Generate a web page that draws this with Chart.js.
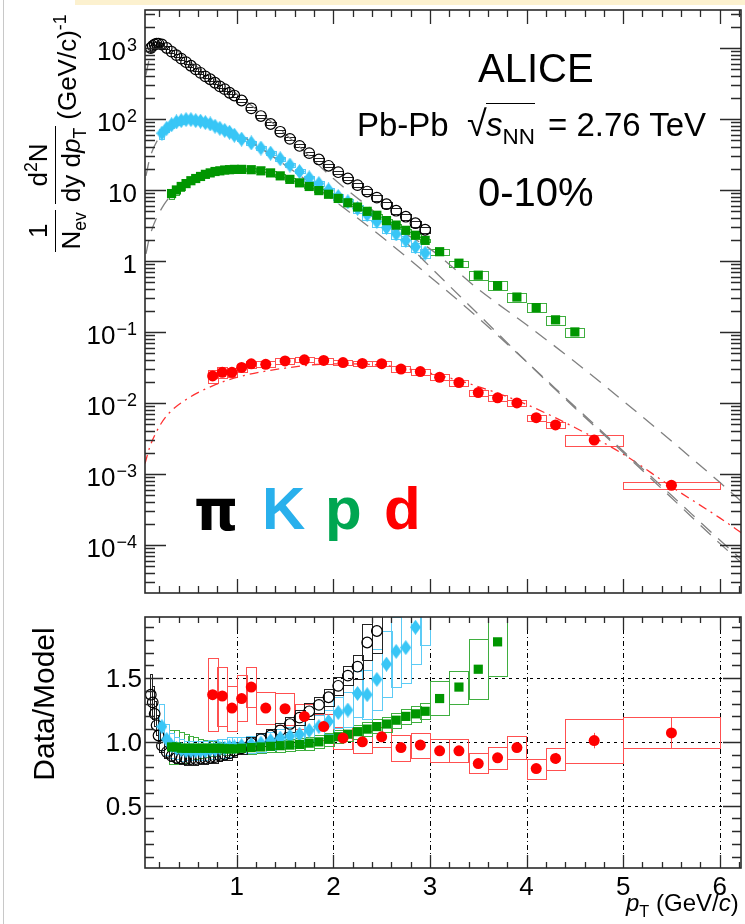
<!DOCTYPE html>
<html>
<head>
<meta charset="utf-8">
<script src="https://cdn.jsdelivr.net/npm/chart.js@4.4.1/dist/chart.umd.min.js"></script>
<style>
body { margin:0; width:745px; height:924px; overflow:hidden; background:#fff; position:relative; font-family:"Liberation Sans", Arial, sans-serif; }
canvas { position:absolute; left:0; }
#spectra { top:0; }
#ratio { top:600px; }
.band { position:absolute; left:75px; top:0; width:670px; height:5px; background:#fcf1cf; }
.edge { position:absolute; left:3px; top:0; width:1px; height:924px; background:#c8c8c8; }
.t { position:absolute; white-space:nowrap; line-height:1; color:#000; }
.ov { border-top:1.5px solid #000; padding-top:2px; }
sub, sup { font-size:0.68em; line-height:0; }
#ytitle { position:absolute; left:-83px; top:95px; width:276px; height:76px; transform:rotate(-90deg);
  display:flex; align-items:center; justify-content:center; font-size:26px; line-height:1.05; white-space:nowrap; }
.frac { display:inline-flex; flex-direction:column; align-items:stretch; text-align:center; margin-right:6px; }
.frac > span:first-child { border-bottom:1.5px solid #000; padding:0 2px 2px; }
.frac > span:last-child { padding:2px 2px 0; }
.unit { transform:translateY(13px); }
#dm { position:absolute; left:-56px; top:689px; width:200px; text-align:center; font-size:30px; line-height:1; transform:rotate(-90deg); }
.big { font-weight:bold; font-size:60px; }
</style>
</head>
<body>
<div class="band"></div>
<div class="edge"></div>
<canvas id="spectra" width="748" height="600"></canvas>
<canvas id="ratio" width="748" height="324"></canvas>

<div class="t" style="left:478px; top:48px; font-size:40px;">ALICE</div>
<div class="t" style="left:357px; top:108px; font-size:33px;">Pb-Pb</div>
<div class="t" style="left:467px; top:106px; font-size:36px;">√</div>
<div class="t" style="left:486px; top:108px; font-size:33px;"><span class="ov"><i>s</i><sub>NN</sub></span></div>
<div class="t" style="left:548px; top:108px; font-size:33px;">= 2.76 TeV</div>
<div class="t" style="left:478px; top:172px; font-size:40px;">0-10%</div>
<div class="t big" style="left:194px; top:483px; color:#000; font-family:'DejaVu Sans', sans-serif; font-size:56px;">π</div>
<div class="t big" style="left:262px; top:479px; color:#29b0ec;">K</div>
<div class="t big" style="left:325px; top:479px; color:#00a651;">p</div>
<div class="t big" style="left:384px; top:479px; color:#ff0000;">d</div>
<div id="ytitle">
  <span class="frac"><span>1</span><span>N<sub>ev</sub></span></span>
  <span class="frac"><span>d<sup>2</sup>N</span><span>dy d<i>p</i><sub>T</sub></span></span>
  <span class="unit">(GeV/c)<sup>-1</sup></span>
</div>
<div id="dm">Data/Model</div>
<div class="t" style="left:626px; top:891px; font-size:24px;"><i>p</i><sub>T</sub> (GeV/<i>c</i>)</div>

<script>
// ---- pions (open circles) ----
const piPt = [0.11,0.13,0.15,0.17,0.19,0.225,0.275,0.325,0.375,0.425,0.475,0.525,0.575,0.625,0.675,0.725,0.775,0.825,0.875,0.925,0.975,
  1.05,1.15,1.25,1.35,1.45,1.55,1.65,1.75,1.85,1.95,2.05,2.15,2.25,2.35,2.45,2.55,2.65,2.75,2.85,2.95];
const piHalfW = [0.01,0.01,0.01,0.01,0.01,0.025,0.025,0.025,0.025,0.025,0.025,0.025,0.025,0.025,0.025,0.025,0.025,0.025,0.025,0.025,0.025,
  0.05,0.05,0.05,0.05,0.05,0.05,0.05,0.05,0.05,0.05,0.05,0.05,0.05,0.05,0.05,0.05,0.05,0.05,0.05,0.05];
const piYield = [1000,1070,1120,1150,1150,1120,1000,891,794,708,631,562,501,447,398,363,324,288,263,234,214,
  182,141,110,85,66,52.5,41.7,33,26.9,21.9,17.8,14.5,11.7,9.5,7.8,6.3,5.1,4.2,3.4,2.75];
const piSys = [0.12,0.10,0.08,0.07,0.06,0.05,0.05,0.05,0.05,0.05,0.05,0.05,0.05,0.05,0.05,0.05,0.05,0.05,0.05,0.05,0.05,
  0.05,0.05,0.05,0.05,0.05,0.05,0.05,0.05,0.05,0.05,0.05,0.05,0.06,0.08,0.09,0.09,0.09,0.09,0.09,0.09];
const piRatio = [1.37,1.31,1.22,1.13,1.05,0.97,0.92,0.89,0.875,0.87,0.865,0.865,0.865,0.87,0.87,0.875,0.88,0.89,0.90,0.91,0.93,
  0.95,0.99,1.02,1.05,1.09,1.14,1.19,1.24,1.29,1.35,1.44,1.52,1.59,1.78,1.87];

// ---- kaons (diamonds) ----
const kPt = [0.225,0.275,0.325,0.375,0.425,0.475,0.525,0.575,0.625,0.675,0.725,0.775,0.825,0.875,0.925,0.975,
  1.05,1.15,1.25,1.35,1.45,1.55,1.65,1.75,1.85,1.95,2.05,2.15,2.25,2.35,2.45,2.55,2.65,2.75,2.85,2.95];
const kHalfW = [0.025,0.025,0.025,0.025,0.025,0.025,0.025,0.025,0.025,0.025,0.025,0.025,0.025,0.025,0.025,0.025,
  0.05,0.05,0.05,0.05,0.05,0.05,0.05,0.05,0.05,0.05,0.05,0.05,0.05,0.05,0.05,0.05,0.05,0.05,0.05,0.05];
const kYield = [63,74,83,91,95,98,98,95,93,89,85,79,74,69,65,59,
  52,46,39,33,27.5,22.4,18.2,14.8,12.3,10,8.1,6.8,5.5,4.5,3.6,2.95,2.4,1.95,1.58,1.29];
const kSys = [0.16,0.12,0.10,0.09,0.09,0.08,0.08,0.08,0.08,0.08,0.08,0.08,0.08,0.08,0.08,0.08,
  0.07,0.07,0.07,0.07,0.07,0.07,0.07,0.08,0.08,0.08,0.10,0.11,0.13,0.14,0.16,0.16,0.16,0.16,0.15,0.15];
const kRatio = [1.12,1.02,0.97,0.95,0.94,0.93,0.93,0.93,0.93,0.93,0.94,0.94,0.95,0.95,0.96,0.96,
  0.97,0.98,0.99,1.01,1.03,1.045,1.06,1.09,1.12,1.16,1.23,1.25,1.38,1.37,1.49,1.61,1.71,1.74,1.90,2.08];

// ---- protons (squares) ----
const pPt = [0.325,0.375,0.425,0.475,0.525,0.575,0.625,0.675,0.725,0.775,0.825,0.875,0.925,0.975,
  1.05,1.15,1.25,1.35,1.45,1.55,1.65,1.75,1.85,1.95,2.05,2.15,2.25,2.35,2.45,2.55,2.65,2.75,2.85,2.95,
  3.1,3.3,3.5,3.7,3.9,4.1,4.3,4.5];
const pHalfW = [0.025,0.025,0.025,0.025,0.025,0.025,0.025,0.025,0.025,0.025,0.025,0.025,0.025,0.025,
  0.05,0.05,0.05,0.05,0.05,0.05,0.05,0.05,0.05,0.05,0.05,0.05,0.05,0.05,0.05,0.05,0.05,0.05,0.05,0.05,
  0.1,0.1,0.1,0.1,0.1,0.1,0.1,0.1];
const pYield = [8.9,10,11.2,12.3,13.5,14.5,15.5,16.6,17.4,18.2,18.6,19.1,19.3,19.5,
  19.5,19.3,18.6,17.4,15.8,14.1,12.6,11.2,9.8,8.7,7.6,6.6,5.75,5.0,4.4,3.7,3.2,2.7,2.3,1.95,
  1.35,0.93,0.63,0.45,0.31,0.22,0.148,0.10];
const pSys = [0.14,0.14,0.13,0.12,0.10,0.09,0.08,0.07,0.06,0.06,0.05,0.05,0.05,0.05,
  0.05,0.05,0.05,0.05,0.05,0.05,0.05,0.05,0.05,0.05,0.05,0.05,0.05,0.05,0.05,0.05,0.05,0.05,0.05,0.05,
  0.10,0.09,0.15,0.15,0.15,0.15,0.15,0.15];
const pRatio = [0.96,0.96,0.95,0.95,0.95,0.95,0.95,0.95,0.95,0.95,0.95,0.945,0.945,0.945,
  0.95,0.955,0.96,0.965,0.97,0.975,0.98,0.99,1.0,1.02,1.04,1.06,1.08,1.10,1.12,1.14,1.17,1.20,1.22,1.24,
  1.34,1.43,1.57,1.785];

// ---- deuterons (full circles) ----
const dPt = [0.75,0.85,0.95,1.05,1.15,1.3,1.5,1.7,1.9,2.1,2.3,2.5,2.7,2.9,3.1,3.3,3.5,3.7,3.9,4.1,4.3,4.7,5.5];
const dHalfW = [0.05,0.05,0.05,0.05,0.05,0.1,0.1,0.1,0.1,0.1,0.1,0.1,0.1,0.1,0.1,0.1,0.1,0.1,0.1,0.1,0.1,0.3,0.5];
const dYield = [0.024,0.027,0.027,0.0316,0.0355,0.035,0.039,0.0405,0.0397,0.037,0.036,0.0357,0.030,0.0276,
  0.023,0.0194,0.014,0.0118,0.010,0.0062,0.0049,0.0030,0.00069];
const dSys = [0.21,0.17,0.14,0.135,0.11,0.10,0.10,0.083,0.09,0.083,0.085,0.077,0.105,0.10,0.097,0.097,0.096,0.10,0.094,0.10,0.098,0.17,0.115];
const dStat = [0.02,0.02,0.02,0.02,0.02,0.02,0.02,0.02,0.02,0.02,0.02,0.02,0.02,0.02,0.02,0.02,0.03,0.03,0.03,0.04,0.05,0.06,0.11];
const dRatio = [1.37,1.36,1.265,1.34,1.43,1.265,1.26,1.20,1.12,1.03,1.0,1.04,0.955,0.975,0.93,0.93,0.83,0.875,0.955,0.79,0.87,1.01,1.07];

// ---- blast-wave model curves ----
const piModelPt = [0.06,0.1,0.15,0.2,0.3,0.5,0.75,1,1.5,2,2.5,3,3.5,4,4.5,5,5.5,6,6.25];
const piModel = [420,740,930,1020,1060,660,380,224,62,14.5,4.0,0.83,0.178,0.038,0.0085,0.0020,4.6e-4,1.05e-4,5.2e-5];
const kModelPt = [0.06,0.1,0.2,0.3,0.5,0.75,1,1.5,2,2.5,3,3.5,4,4.5,5,5.5,6,6.25];
const kModel = [15.8,28,56,79,105,89,63,22.4,7.2,2.19,0.60,0.158,0.038,0.0089,0.0021,5.0e-4,1.17e-4,5.8e-5];
const pModelPt = [0.06,0.1,0.25,0.5,0.75,1,1.5,2,2.5,3,3.5,4,4.5,5,5.5,6,6.25];
const pModel = [1.26,2.24,6.3,13.5,18.2,20.4,14.8,7.8,3.6,1.48,0.40,0.126,0.038,0.0107,0.0029,7.6e-4,3.8e-4];
const dModelPt = [0.05,0.1,0.2,0.3,0.5,0.75,1,1.5,2,2.5,3,3.5,4,4.5,5,5.5,6,6.25];
const dModel = [0.0014,0.0024,0.0047,0.0072,0.0117,0.0174,0.0229,0.0309,0.0355,0.0339,0.0263,0.0170,0.0095,0.0045,0.0019,6.6e-4,2.4e-4,1.4e-4];

// ---- axis labels ----
const xTicks = [1, 2, 3, 4, 5, 6];
const ratioTicks = [0.5, 1.0, 1.5];
const ratioTickLabels = ['0.5', '1.0', '1.5'];
const yieldDecades = [-4, -3, -2, -1, 0, 1, 2, 3];

const FONT = '"Liberation Sans", Arial, sans-serif';
const pts = (xs, ys) => ys.map((y, i) => ({x: xs[i], y: y}));

function diamond(color, w, h) {
  const c = document.createElement('canvas');
  c.width = w; c.height = h;
  const g = c.getContext('2d');
  g.fillStyle = color;
  g.beginPath();
  g.moveTo(w / 2, 0); g.lineTo(w, h / 2); g.lineTo(w / 2, h); g.lineTo(0, h / 2);
  g.closePath(); g.fill();
  return c;
}
const kDiamond = diamond('#38c6f6', 11, 15);

const piStyle = {pointStyle: 'circle', pointRadius: 5.3, pointBorderColor: '#000', pointBackgroundColor: 'rgba(0,0,0,0)', pointBorderWidth: 1.2, boxColor: '#222'};
const kStyle = {pointStyle: kDiamond, pointRadius: 6, boxColor: '#5ccbf5'};
const pStyle = {pointStyle: 'rect', pointRadius: 6.5, pointBorderWidth: 0, pointBackgroundColor: '#009600', pointBorderColor: '#009600', boxColor: '#3fae3f'};
const dStyle = {pointStyle: 'circle', pointRadius: 5.5, pointBorderWidth: 0, pointBackgroundColor: '#ff0000', pointBorderColor: '#ff0000', boxColor: '#ff5050'};

function markers(xs, ys, style, sys, hw, stat) {
  return Object.assign({data: pts(xs, ys), showLine: false, clip: 0, sys: sys, hw: hw, stat: stat}, style);
}
function model(xs, ys, color, dash) {
  return {data: pts(xs, ys), showLine: true, pointRadius: 0, borderColor: color, borderWidth: 1.3,
    borderDash: dash, cubicInterpolationMode: 'monotone', clip: 0};
}

// frame, inner ticks, grid, error boxes and tick labels (ROOT look)
const rootFrame = {
  id: 'rootFrame',
  beforeDatasetsDraw(chart, args, o) {
    const {ctx, chartArea: a} = chart;
    const xs = chart.scales.x, ys = chart.scales.y;
    ctx.save();
    ctx.beginPath(); ctx.rect(a.left, a.top, a.right - a.left, a.bottom - a.top); ctx.clip();
    if (o.grid) {
      ctx.strokeStyle = '#000'; ctx.lineWidth = 1;
      ctx.setLineDash([5, 3, 1, 3]);
      xTicks.forEach(v => {
        const px = Math.round(xs.getPixelForValue(v)) + 0.5;
        ctx.beginPath(); ctx.moveTo(px, a.top); ctx.lineTo(px, a.bottom); ctx.stroke();
      });
      ctx.setLineDash([3, 4]);
      ratioTicks.forEach(v => {
        const py = Math.round(ys.getPixelForValue(v)) + 0.5;
        ctx.beginPath(); ctx.moveTo(a.left, py); ctx.lineTo(a.right, py); ctx.stroke();
      });
      ctx.setLineDash([]);
    }
    chart.data.datasets.forEach(ds => {
      if (!ds.sys) return;
      ctx.strokeStyle = ds.boxColor; ctx.lineWidth = 1;
      ds.data.forEach((p, i) => {
        const x0 = xs.getPixelForValue(p.x - ds.hw[i]), x1 = xs.getPixelForValue(p.x + ds.hw[i]);
        const y0 = ys.getPixelForValue(p.y * (1 + ds.sys[i])), y1 = ys.getPixelForValue(p.y * (1 - ds.sys[i]));
        ctx.strokeRect(Math.round(x0) + 0.5, Math.round(y0) + 0.5, Math.round(x1 - x0), Math.round(y1 - y0));
        if (ds.stat) {
          const xc = Math.round(xs.getPixelForValue(p.x)) + 0.5;
          ctx.beginPath();
          ctx.moveTo(xc, ys.getPixelForValue(p.y * (1 + ds.stat[i])));
          ctx.lineTo(xc, ys.getPixelForValue(p.y * (1 - ds.stat[i])));
          ctx.stroke();
        }
      });
    });
    ctx.restore();
  },
  afterDraw(chart, args, o) {
    const {ctx, chartArea: a} = chart;
    const xs = chart.scales.x, ys = chart.scales.y;
    ctx.save();
    ctx.strokeStyle = '#2a2a2a'; ctx.lineWidth = 1.3;
    ctx.beginPath();
    for (let k = 1; k <= 31; k++) {
      const v = k * 0.2;
      if (v > xs.max) break;
      const px = Math.round(xs.getPixelForValue(v)) + 0.5;
      const L = k % 5 === 0 ? o.xMajor : o.xMinor;
      ctx.moveTo(px, a.bottom); ctx.lineTo(px, a.bottom - L);
      ctx.moveTo(px, a.top); ctx.lineTo(px, a.top + L);
    }
    const yt = [];
    if (o.log) {
      for (let e = -5; e <= 3; e++) for (let m = 1; m <= 9; m++) yt.push({v: m * Math.pow(10, e), major: m === 1});
    } else {
      for (let k = 1; k <= 19; k++) yt.push({v: k * 0.1, major: k % 5 === 0});
    }
    yt.forEach(t => {
      if (t.v < ys.min || t.v > ys.max) return;
      const py = Math.round(ys.getPixelForValue(t.v)) + 0.5;
      const L = t.major ? o.yMajor : o.yMinor;
      ctx.moveTo(a.left, py); ctx.lineTo(a.left + L, py);
      ctx.moveTo(a.right, py); ctx.lineTo(a.right - L, py);
    });
    ctx.stroke();
    ctx.lineWidth = 1.6;
    ctx.strokeRect(a.left, a.top, a.right - a.left, a.bottom - a.top);

    ctx.fillStyle = '#000';
    ctx.textBaseline = 'alphabetic';
    if (o.log) {
      yieldDecades.forEach(e => {
        const py = ys.getPixelForValue(Math.pow(10, e));
        const base = e === 0 ? '1' : '10';
        const ex = (e === 0 || e === 1) ? '' : (e < 0 ? '\u2212' + (-e) : String(e));
        let x = 137;
        ctx.textAlign = 'right';
        if (ex) {
          ctx.font = '18px ' + FONT;
          ctx.fillText(ex, x, py + 3);
          x -= ctx.measureText(ex).width + 1;
        }
        ctx.font = '26px ' + FONT;
        ctx.fillText(base, x, py + 12);
      });
    } else {
      ctx.font = '26px ' + FONT;
      ctx.textAlign = 'center';
      xTicks.forEach(v => ctx.fillText(String(v), xs.getPixelForValue(v), a.bottom + 27));
      ctx.textAlign = 'right';
      ratioTicks.forEach((v, i) => ctx.fillText(ratioTickLabels[i], 142, ys.getPixelForValue(v) + 9));
    }
    ctx.restore();
  }
};

function baseOptions(ymin, ymax, ytype, padTop, xHeight, frameOpts) {
  return {
    responsive: false, animation: false, devicePixelRatio: 1,
    layout: {padding: {top: padTop, right: 2, left: 0, bottom: 0}},
    plugins: {legend: {display: false}, tooltip: {enabled: false}, rootFrame: frameOpts},
    scales: {
      x: {type: 'linear', min: 0.05, max: 6.22, ticks: {display: false}, grid: {display: false}, border: {display: false},
          afterFit: s => { s.height = xHeight; }},
      y: {type: ytype, min: ymin, max: ymax, ticks: {display: false}, grid: {display: false}, border: {display: false},
          afterFit: s => { s.width = 145; }}
    }
  };
}

// first dataset is drawn on top
new Chart(document.getElementById('spectra'), {
  type: 'scatter',
  data: {datasets: [
    markers(piPt, piYield, piStyle, piSys, piHalfW),
    markers(pPt, pYield, pStyle, pSys, pHalfW),
    markers(kPt, kYield, kStyle, kSys, kHalfW),
    markers(dPt, dYield, dStyle, dSys, dHalfW, dStat),
    model(piModelPt, piModel, '#808080', [14, 9]),
    model(kModelPt, kModel, '#808080', [14, 9]),
    model(pModelPt, pModel, '#808080', [14, 9]),
    model(dModelPt, dModel, '#ff3030', [9, 5, 2, 5])
  ]},
  options: baseOptions(2.1e-5, 3430, 'logarithmic', 10, 7, {log: true, xMajor: 14, xMinor: 7, yMajor: 21, yMinor: 10}),
  plugins: [rootFrame]
});

new Chart(document.getElementById('ratio'), {
  type: 'scatter',
  data: {datasets: [
    markers(dPt, dRatio, dStyle, dSys, dHalfW, dStat),
    markers(pPt, pRatio, pStyle, pSys, pHalfW),
    markers(kPt, kRatio, kStyle, kSys, kHalfW),
    markers(piPt, piRatio, piStyle, piSys, piHalfW)
  ]},
  options: baseOptions(0.01, 1.98, 'linear', 17, 56, {log: false, grid: true, xMajor: 13, xMinor: 6, yMajor: 18, yMinor: 9}),
  plugins: [rootFrame]
});
</script>
</body>
</html>
